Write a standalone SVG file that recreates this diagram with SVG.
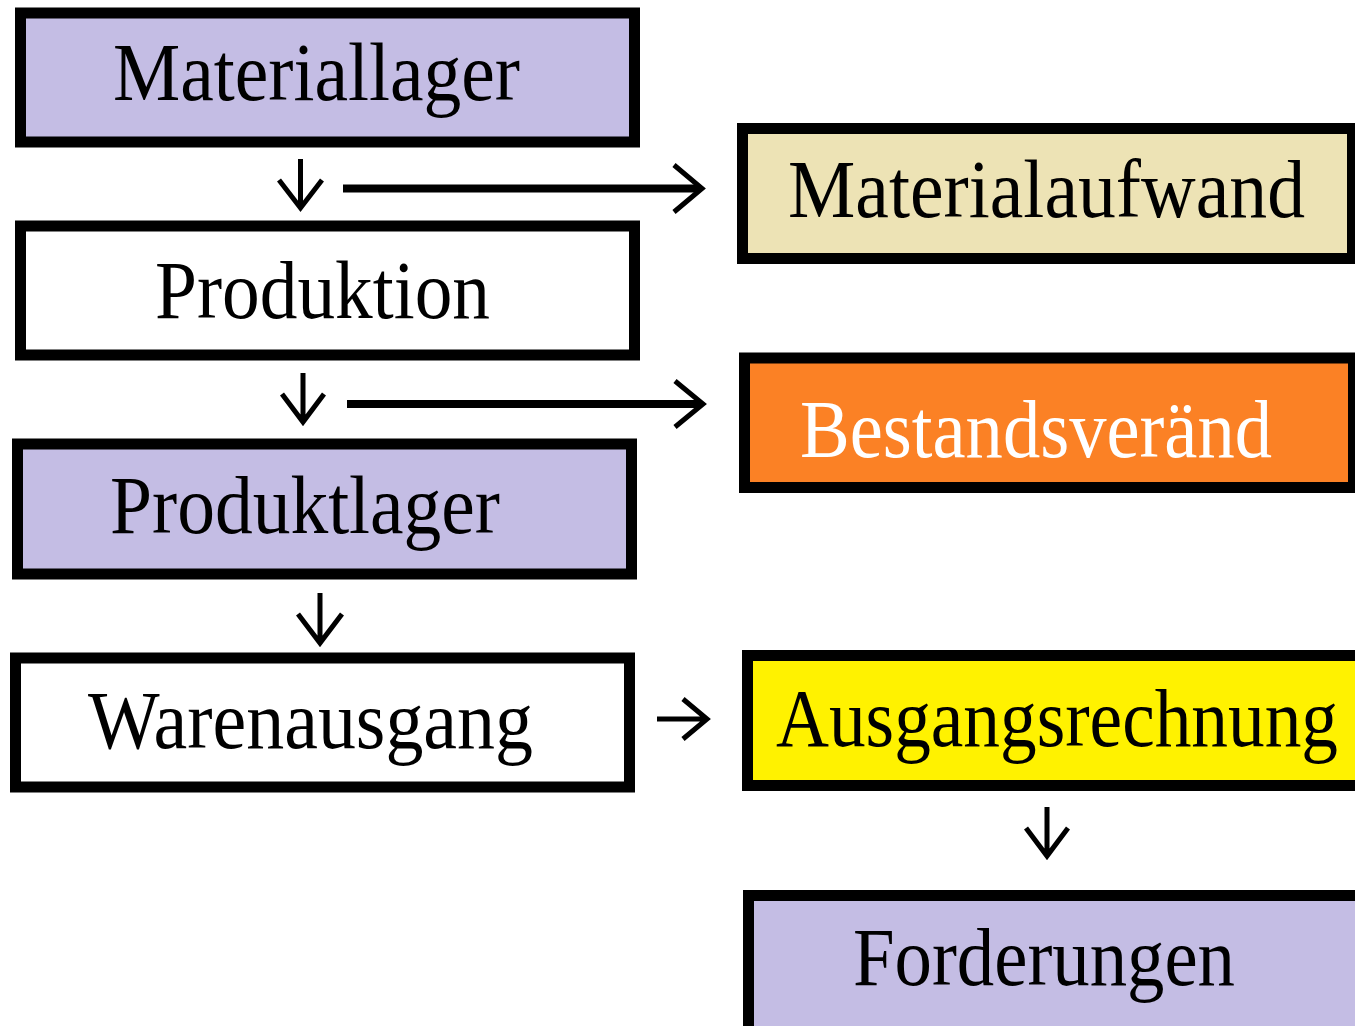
<svg xmlns="http://www.w3.org/2000/svg" width="1355" height="1026" viewBox="0 0 1355 1026">
<style>
.box{stroke:#000;stroke-width:11}
.lav{fill:#c4bde4}
.wht{fill:#ffffff}
.whe{fill:#ede3b5}
.org{fill:#fb8125}
.yel{fill:#fff200}
.t{font-family:"Liberation Serif","Times New Roman",serif;font-size:82px;fill:#000}
.tw{fill:#ffffff}
.ar{fill:none;stroke:#000;stroke-width:5;stroke-linecap:butt;stroke-linejoin:miter}
.bar{fill:none;stroke:#000;stroke-width:8}
</style>
<rect width="1355" height="1026" fill="#ffffff"/>
<g id="materiallager">
<rect class="box lav" x="20.5" y="13" width="614" height="129"/>
<text class="t" x="113" y="100" textLength="407" lengthAdjust="spacingAndGlyphs">Materiallager</text>
</g>
<g id="produktion">
<rect class="box wht" x="20.5" y="226" width="614" height="129"/>
<text class="t" x="155" y="318" textLength="335" lengthAdjust="spacingAndGlyphs">Produktion</text>
</g>
<g id="produktlager">
<rect class="box lav" x="17.5" y="444" width="614" height="130"/>
<text class="t" x="110" y="533" textLength="390" lengthAdjust="spacingAndGlyphs">Produktlager</text>
</g>
<g id="warenausgang">
<rect class="box wht" x="15.5" y="658" width="614" height="129"/>
<text class="t" x="88" y="748" textLength="445" lengthAdjust="spacingAndGlyphs">Warenausgang</text>
</g>
<g id="materialaufwand">
<rect class="box whe" x="742.5" y="128.5" width="610" height="130"/>
<text class="t" x="788" y="217" textLength="517" lengthAdjust="spacingAndGlyphs">Materialaufwand</text>
</g>
<g id="bestandsveraend">
<rect class="box org" x="744.5" y="358" width="609" height="129.5"/>
<text class="t tw" x="800" y="457" textLength="472" lengthAdjust="spacingAndGlyphs">Bestandsveränd</text>
</g>
<g id="ausgangsrechnung">
<rect class="box yel" x="747.5" y="655.5" width="620" height="130"/>
<text class="t" x="776" y="746" textLength="562" lengthAdjust="spacingAndGlyphs">Ausgangsrechnung</text>
</g>
<g id="forderungen">
<rect class="box lav" x="748.5" y="895.5" width="620" height="150"/>
<text class="t" x="853" y="985" textLength="382" lengthAdjust="spacingAndGlyphs">Forderungen</text>
</g>
<g id="connectors">
<path class="ar" d="M300.5 159 V208 M279 180 L300.5 208 L322 180"/>
<path class="bar" d="M343 188.5 H700"/>
<path class="ar" d="M674 165 L702 188.5 L674 212"/>
<path class="ar" d="M303 373 V422 M282 394 L303 422 L324 394"/>
<path class="bar" d="M347 404 H702"/>
<path class="ar" d="M675 381 L703 404 L675 427"/>
<path class="ar" d="M320 593 V643 M298 614 L320 643 L342 614"/>
<path class="ar" d="M657 719 H706 M683 699 L707 719 L683 739"/>
<path class="ar" d="M1047 807 V856 M1026 828 L1047 856 L1068 828"/>
</g>
</svg>
